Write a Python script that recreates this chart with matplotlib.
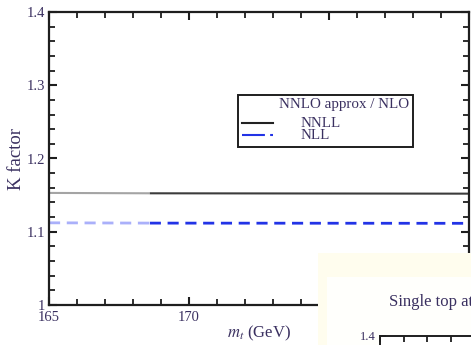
import numpy as np
import matplotlib
matplotlib.use('Agg')
import matplotlib.pyplot as plt
from matplotlib.patches import Rectangle
from matplotlib.lines import Line2D
from matplotlib.ticker import MultipleLocator, FixedFormatter, FixedLocator

# K factor (NNLO approx / NLO) versus top mass
mt = np.array([165.0, 168.6, 180.0])
k_nnll = np.array([1.1530, 1.1525, 1.1520])
k_nll = np.array([1.1122, 1.1118, 1.1115])

y_ticks = [1.0, 1.1, 1.2, 1.3, 1.4]
y_labels = ['1', '1.1', '1.2', '1.3', '1.4']
x_ticks = [165, 170, 175, 180]
x_labels = ['165', '170', '175', '']

plt.rcParams['font.family'] = ['Liberation Serif', 'DejaVu Serif']
plt.rcParams['mathtext.fontset'] = 'stix'
txt_col = '#3a3060'
spine_col = '#1e1e1e'

fig = plt.figure(figsize=(4.71, 3.45), dpi=100)
ax = fig.add_axes([49 / 471, 40 / 345, 420 / 471, 293 / 345])

# faded start of each curve, then full colour
ax.plot(mt[:2], k_nnll[:2], color='#a4a4a4', lw=1.5, solid_capstyle='butt')
ax.plot(mt[1:], k_nnll[1:], color='#3c3c3c', lw=1.5, solid_capstyle='butt')
ax.plot(mt[:2], k_nll[:2], color='#aab0fa', lw=2.0, dashes=(4.0, 2.4))
ax.plot(mt[1:], k_nll[1:], color='#2233e6', lw=2.0, dashes=(4.0, 2.4))

ax.set_xlim(165, 180)
ax.set_ylim(1.0, 1.4)
ax.xaxis.set_major_locator(FixedLocator(x_ticks))
ax.xaxis.set_major_formatter(FixedFormatter(x_labels))
ax.xaxis.set_minor_locator(MultipleLocator(1))
ax.yaxis.set_major_locator(FixedLocator(y_ticks))
ax.yaxis.set_major_formatter(FixedFormatter(y_labels))
ax.yaxis.set_minor_locator(MultipleLocator(0.02))
ax.tick_params(which='both', direction='in', top=True, right=True,
               color=spine_col, labelcolor=txt_col, labelsize=10.5)
ax.tick_params(which='major', length=6, width=1.5)
ax.tick_params(which='minor', length=4, width=1.3)
ax.tick_params(axis='y', pad=3)
ax.tick_params(axis='x', pad=4)
for s in ax.spines.values():
    s.set_linewidth(1.6)
    s.set_color(spine_col)

ax.set_ylabel('K factor', fontsize=13.5, color=txt_col)
ax.set_xlabel('$m_t$ (GeV)', fontsize=12, color=txt_col)
ax.yaxis.set_label_coords(-0.057, 0.5)
ax.xaxis.set_label_coords(0.5, -0.064)

# legend box drawn by hand
fs_leg = 10.8
ax.add_patch(Rectangle((0.45, 0.539), 0.4167, 0.178, transform=ax.transAxes,
                       facecolor='white', edgecolor=spine_col, lw=1.4, zorder=5))
ax.text(0.702, 0.683, 'NNLO approx / NLO', transform=ax.transAxes, ha='center',
        va='center', fontsize=fs_leg, color=txt_col, zorder=6)
ax.add_line(Line2D([0.4595, 0.533], [0.621, 0.621], transform=ax.transAxes,
                   color='#222222', lw=1.5, zorder=6))
ax.add_line(Line2D([0.4595, 0.533], [0.580, 0.580], transform=ax.transAxes,
                   color='#2233e6', lw=1.5, dashes=(11, 2.5, 2.5, 2.5), zorder=6))
ax.text(0.598, 0.621, 'NNLL', transform=ax.transAxes, ha='left', va='center',
        fontsize=fs_leg, color=txt_col, zorder=6)
ax.text(0.598, 0.580, 'NLL', transform=ax.transAxes, ha='left', va='center',
        fontsize=fs_leg, color=txt_col, zorder=6)

# neighbouring panel poking in at the lower right
fig.patches.append(Rectangle((318 / 471, 0), 1, 92 / 345, transform=fig.transFigure,
                             facecolor='#fffdee', edgecolor='none', zorder=2))
fig.patches.append(Rectangle((327 / 471, 0), 1, 68 / 345, transform=fig.transFigure,
                             facecolor='#fffffc', edgecolor='none', zorder=2.5))
fig.text(389 / 471, 43 / 345, 'Single top at', fontsize=12, color=txt_col,
         ha='left', va='center', zorder=3)

ax2 = fig.add_axes([380 / 471, -0.5, 0.5, 0.5 + 9 / 345])
ax2.set_zorder(4)
ax2.set_xlim(0, 10)
ax2.set_ylim(1.0, 1.4)
ax2.xaxis.set_major_locator(MultipleLocator(1))
ax2.yaxis.set_major_locator(FixedLocator([1.4]))
ax2.yaxis.set_major_formatter(FixedFormatter(['1.4']))
ax2.tick_params(direction='in', top=True, labelbottom=False, length=4, width=1.3,
                color=spine_col, labelcolor=txt_col, labelsize=9, pad=3)
for s in ax2.spines.values():
    s.set_linewidth(1.4)
    s.set_color(spine_col)

fig.savefig('out.png', dpi=100)
